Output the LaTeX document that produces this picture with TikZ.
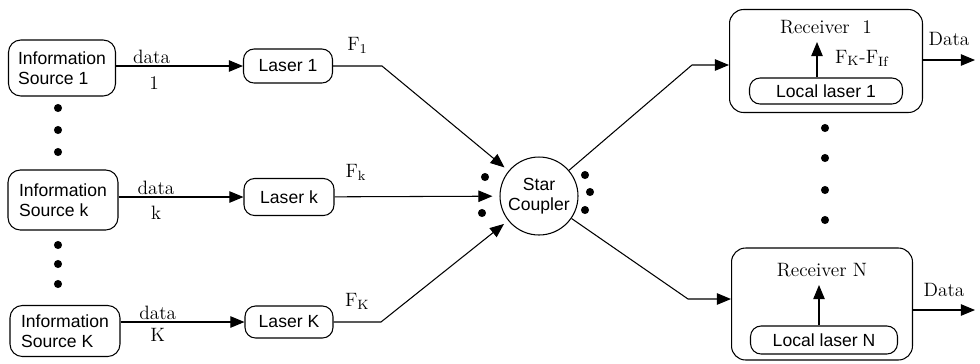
\documentclass[tikz,border=0pt]{standalone}
\usepackage{fontspec}
\newfontfamily\boxfont{Liberation Sans}
\usetikzlibrary{positioning,arrows.meta}

\begin{document}
\begin{tikzpicture}[x=0.02cm, y=-0.02cm, line width=0.6pt,
  box/.style={draw, rounded corners=7pt, font=\boxfont\fontsize{10}{11.5}\selectfont, align=left, inner sep=2pt},
  lbl/.style={font=\fontsize{11}{12}\selectfont, inner sep=1pt},
  arr/.style={-{Triangle[length=8pt,width=6.5pt]}}]
        \useasboundingbox (0,0) rectangle (980,363);
        % sources and lasers
        \node[box, minimum width=2.14cm, minimum height=1.12cm] (src1) at (62,68) {Information\\Source 1};
        \node[box, minimum width=2.2cm, minimum height=1.2cm] (srck) at (63,200) {Information\\Source k};
        \node[box, minimum width=2.2cm, minimum height=1.02cm] (srcK) at (65,331) {Information\\Source K};
        \node[box, rounded corners=6pt, minimum width=1.78cm, minimum height=0.68cm] (las1) at (288,66) {Laser 1};
        \node[box, rounded corners=6pt, minimum width=1.8cm, minimum height=0.74cm] (lask) at (289,197) {Laser k};
        \node[box, rounded corners=6pt, minimum width=1.76cm, minimum height=0.64cm] (lasK) at (289,322) {Laser K};
        \node[draw, circle, minimum size=1.56cm, inner sep=0pt, font=\boxfont\fontsize{10}{11.5}\selectfont, align=center] (star) at (539,196) {Star\\Coupler};
        % receivers
        \node[draw, rounded corners=8pt, minimum width=3.86cm, minimum height=2.06cm] (rec1) at (826,61) {};
        \node[lbl] (rec1t) at (826,27) {Receiver~~1};
        \node[box, rounded corners=6pt, minimum width=3.06cm, minimum height=0.52cm] (loc1) at (826,91) {Local laser 1};
        \node[draw, rounded corners=8pt, minimum width=3.62cm, minimum height=2.24cm] (recN) at (822,304) {};
        \node[lbl] (recNt) at (822,270) {Receiver N};
        \node[box, rounded corners=6pt, minimum width=2.94cm, minimum height=0.56cm] (locN) at (824,340) {Local laser N};
        \coordinate (c1) at (382,66);
        \coordinate (cK) at (381,322);
        \coordinate (o1) at (692,65);
        \coordinate (oN) at (688,299);
        \coordinate (up1) at (817,42);
        \coordinate (upN) at (819,285);
        \coordinate (d1) at (975,60);
        \coordinate (dN) at (975,310);
        % dots
        \foreach \y in {108,130,152,245,264,284} \fill (58,\y) circle[radius=2.3pt];
        \foreach \y in {128,158,190,220} \fill (825,\y) circle[radius=2.3pt];
        \fill (485,177) circle[radius=2.3pt] (482,213) circle[radius=2.3pt];
        \fill (585,175) circle[radius=2.3pt] (590,192) circle[radius=2.3pt] (585,210) circle[radius=2.3pt];
        % data lines
        \draw[arr] (src1.east |- las1) -- node[lbl, above, pos=0.28]{data} node[lbl, below=5pt, pos=0.3]{1} (las1);
        \draw[arr] (srck.east |- lask) -- node[lbl, above, pos=0.3]{data} node[lbl, below=4pt, pos=0.3]{k} (lask);
        \draw[arr] (srcK.east |- lasK) -- node[lbl, above, pos=0.3]{data} node[lbl, below=2pt, pos=0.3]{K} (lasK);
        % to the star coupler
        \draw[arr, shorten >=3pt] (las1) -- node[lbl, above=6pt]{$\mathrm{F_1}$} (c1) -- (star);
        \draw[arr, shorten >=4pt] (lask) -- node[lbl, above=8pt, pos=0.13]{$\mathrm{F_k}$} (star);
        \draw[arr, shorten >=3pt] (lasK) -- node[lbl, above=6pt]{$\mathrm{F_K}$} (cK) -- (star);
        % to the receivers
        \draw[arr] (star) -- (o1) -- (rec1.west |- o1);
        \draw[arr] (star) -- (oN) -- (recN.west |- oN);
        \draw[arr] (loc1.north -| up1) -- node[lbl, right=9pt, pos=0.55]{$\mathrm{F_K}$-$\mathrm{F_{If}}$} (up1);
        \draw[arr] (locN.north -| upN) -- (upN);
        \draw[arr] (rec1.east |- d1) -- node[lbl, above=7pt]{Data} (d1);
        \draw[arr] (recN.east |- dN) -- node[lbl, above=6pt]{Data} (dN);
      \end{tikzpicture}
\end{document}
